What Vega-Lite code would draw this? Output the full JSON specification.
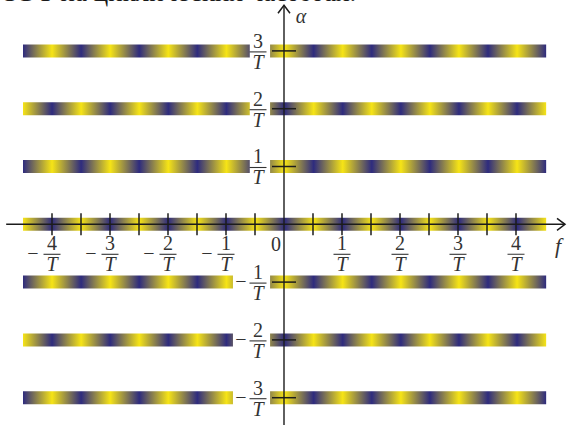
{
  "$schema": "https://vega.github.io/schema/vega-lite/v6.json",
  "width": 568,
  "height": 425,
  "padding": 0,
  "autosize": {"type": "none"},
  "background": "white",
  "config": {"view": {"stroke": null}},
  "datasets": {
    "bands": [
      {"a": 3, "lo": -4.5, "hi": 4.52, "parity": "odd"},
      {"a": 2, "lo": -4.5, "hi": 4.52, "parity": "even"},
      {"a": 1, "lo": -4.5, "hi": 4.52, "parity": "odd"},
      {"a": 0, "lo": -4.5, "hi": 4.52, "parity": "even"},
      {"a": -1, "lo": -4.5, "hi": 4.52, "parity": "odd"},
      {"a": -2, "lo": -4.5, "hi": 4.52, "parity": "even"},
      {"a": -3, "lo": -4.5, "hi": 4.52, "parity": "odd"}
    ],
    "labelGaps": [
      {"a": 3, "lo": -0.59, "hi": -0.24},
      {"a": 2, "lo": -0.59, "hi": -0.24},
      {"a": 1, "lo": -0.59, "hi": -0.24},
      {"a": -1, "lo": -0.88, "hi": -0.24},
      {"a": -2, "lo": -0.88, "hi": -0.24},
      {"a": -3, "lo": -0.88, "hi": -0.24}
    ],
    "axisLines": [
      {"x1": -4.79, "x2": 4.845, "y1": 0, "y2": 0},
      {"x1": 0, "x2": 0, "y1": -3.5, "y2": 3.79}
    ],
    "fTicks": [
      {"f": -4}, {"f": -3.5}, {"f": -3}, {"f": -2.5}, {"f": -2}, {"f": -1.5}, {"f": -1}, {"f": -0.5},
      {"f": 0.5}, {"f": 1}, {"f": 1.5}, {"f": 2}, {"f": 2.5}, {"f": 3}, {"f": 3.5}, {"f": 4}
    ],
    "fLabels": [
      {"f": -4, "num": "4", "sign": "−"},
      {"f": -3, "num": "3", "sign": "−"},
      {"f": -2, "num": "2", "sign": "−"},
      {"f": -1, "num": "1", "sign": "−"},
      {"f": 1, "num": "1", "sign": ""},
      {"f": 2, "num": "2", "sign": ""},
      {"f": 3, "num": "3", "sign": ""},
      {"f": 4, "num": "4", "sign": ""}
    ],
    "aLabels": [
      {"a": 3, "num": "3", "sign": ""},
      {"a": 2, "num": "2", "sign": ""},
      {"a": 1, "num": "1", "sign": ""},
      {"a": -1, "num": "1", "sign": "−"},
      {"a": -2, "num": "2", "sign": "−"},
      {"a": -3, "num": "3", "sign": "−"}
    ],
    "arrowF": [{"f": 4.845, "a": 0}],
    "arrowA": [{"f": 0, "a": 3.79}],
    "caption": [{"f": -4.8966, "a": 3.8806, "text": "ОЭТ на циклических частотах."}]
  },
  "layer": [
    {
      "data": {"name": "bands"},
      "transform": [{"filter": "datum.parity === 'even'"}],
      "mark": {
        "type": "rect",
        "yOffset": -6.5,
        "y2Offset": 6.5,
        "fill": {
          "gradient": "linear", "x1": 0, "y1": 0, "x2": 1, "y2": 0,
          "stops": [
            {"offset": 0.0, "color": "#f6e416"},
            {"offset": 0.0556, "color": "#2e2b7e"},
            {"offset": 0.1111, "color": "#f6e416"},
            {"offset": 0.1667, "color": "#2e2b7e"},
            {"offset": 0.2222, "color": "#f6e416"},
            {"offset": 0.2778, "color": "#2e2b7e"},
            {"offset": 0.3333, "color": "#f6e416"},
            {"offset": 0.3889, "color": "#2e2b7e"},
            {"offset": 0.4444, "color": "#f6e416"},
            {"offset": 0.5, "color": "#2e2b7e"},
            {"offset": 0.5556, "color": "#f6e416"},
            {"offset": 0.6111, "color": "#2e2b7e"},
            {"offset": 0.6667, "color": "#f6e416"},
            {"offset": 0.7222, "color": "#2e2b7e"},
            {"offset": 0.7778, "color": "#f6e416"},
            {"offset": 0.8333, "color": "#2e2b7e"},
            {"offset": 0.8889, "color": "#f6e416"},
            {"offset": 0.9444, "color": "#2e2b7e"},
            {"offset": 1.0, "color": "#f6e416"}
          ]
        }
      },
      "encoding": {
        "x": {"field": "lo", "type": "quantitative", "scale": {"domain": [-4.8966, 4.8966], "nice": false, "zero": false}, "axis": null},
        "x2": {"field": "hi"},
        "y": {"field": "a", "type": "quantitative", "scale": {"domain": [-3.4723, 3.8806], "nice": false, "zero": false}, "axis": null},
        "y2": {"field": "a"}
      }
    },
    {
      "data": {"name": "bands"},
      "transform": [{"filter": "datum.parity === 'odd'"}],
      "mark": {
        "type": "rect",
        "yOffset": -6.5,
        "y2Offset": 6.5,
        "fill": {
          "gradient": "linear", "x1": 0, "y1": 0, "x2": 1, "y2": 0,
          "stops": [
            {"offset": 0.0, "color": "#2e2b7e"},
            {"offset": 0.0556, "color": "#f6e416"},
            {"offset": 0.1111, "color": "#2e2b7e"},
            {"offset": 0.1667, "color": "#f6e416"},
            {"offset": 0.2222, "color": "#2e2b7e"},
            {"offset": 0.2778, "color": "#f6e416"},
            {"offset": 0.3333, "color": "#2e2b7e"},
            {"offset": 0.3889, "color": "#f6e416"},
            {"offset": 0.4444, "color": "#2e2b7e"},
            {"offset": 0.5, "color": "#f6e416"},
            {"offset": 0.5556, "color": "#2e2b7e"},
            {"offset": 0.6111, "color": "#f6e416"},
            {"offset": 0.6667, "color": "#2e2b7e"},
            {"offset": 0.7222, "color": "#f6e416"},
            {"offset": 0.7778, "color": "#2e2b7e"},
            {"offset": 0.8333, "color": "#f6e416"},
            {"offset": 0.8889, "color": "#2e2b7e"},
            {"offset": 0.9444, "color": "#f6e416"},
            {"offset": 1.0, "color": "#2e2b7e"}
          ]
        }
      },
      "encoding": {
        "x": {"field": "lo", "type": "quantitative", "scale": {"domain": [-4.8966, 4.8966], "nice": false, "zero": false}, "axis": null},
        "x2": {"field": "hi"},
        "y": {"field": "a", "type": "quantitative", "scale": {"domain": [-3.4723, 3.8806], "nice": false, "zero": false}, "axis": null},
        "y2": {"field": "a"}
      }
    },
    {
      "data": {"name": "labelGaps"},
      "mark": {"type": "rect", "fill": "white", "yOffset": -8, "y2Offset": 8},
      "encoding": {
        "x": {"field": "lo", "type": "quantitative"},
        "x2": {"field": "hi"},
        "y": {"field": "a", "type": "quantitative"},
        "y2": {"field": "a"}
      }
    },
    {
      "data": {"name": "axisLines"},
      "mark": {"type": "rule", "color": "#1c1c1c", "strokeWidth": 1.4},
      "encoding": {
        "x": {"field": "x1", "type": "quantitative"},
        "x2": {"field": "x2"},
        "y": {"field": "y1", "type": "quantitative"},
        "y2": {"field": "y2"}
      }
    },
    {
      "data": {"name": "fTicks"},
      "mark": {"type": "tick", "orient": "vertical", "size": 22, "thickness": 1.5, "color": "#1c1c1c", "opacity": 1},
      "encoding": {
        "x": {"field": "f", "type": "quantitative"},
        "y": {"datum": 0, "type": "quantitative"}
      }
    },
    {
      "data": {"name": "aLabels"},
      "mark": {"type": "tick", "orient": "horizontal", "size": 24, "thickness": 1.5, "color": "#1c1c1c", "opacity": 1},
      "encoding": {
        "x": {"datum": 0, "type": "quantitative"},
        "y": {"field": "a", "type": "quantitative"}
      }
    },
    {
      "data": {"name": "fLabels"},
      "mark": {"type": "text", "font": "Times New Roman", "fontSize": 20, "color": "#333", "baseline": "middle", "align": "center", "dy": 20},
      "encoding": {
        "x": {"field": "f", "type": "quantitative"},
        "y": {"datum": 0, "type": "quantitative"},
        "text": {"field": "num"}
      }
    },
    {
      "data": {"name": "fLabels"},
      "mark": {"type": "tick", "orient": "horizontal", "size": 17, "thickness": 1.1, "color": "#333", "opacity": 1, "yOffset": 30},
      "encoding": {
        "x": {"field": "f", "type": "quantitative"},
        "y": {"datum": 0, "type": "quantitative"}
      }
    },
    {
      "data": {"name": "fLabels"},
      "mark": {"type": "text", "font": "Times New Roman", "fontStyle": "italic", "fontSize": 20, "color": "#333", "baseline": "middle", "align": "center", "dy": 41},
      "encoding": {
        "x": {"field": "f", "type": "quantitative"},
        "y": {"datum": 0, "type": "quantitative"},
        "text": {"value": "T"}
      }
    },
    {
      "data": {"name": "fLabels"},
      "mark": {"type": "text", "font": "Times New Roman", "fontSize": 20, "color": "#333", "baseline": "middle", "align": "center", "dx": -19, "dy": 30},
      "encoding": {
        "x": {"field": "f", "type": "quantitative"},
        "y": {"datum": 0, "type": "quantitative"},
        "text": {"field": "sign"}
      }
    },
    {
      "data": {"name": "aLabels"},
      "mark": {"type": "text", "font": "Times New Roman", "fontSize": 20, "color": "#333", "baseline": "middle", "align": "center", "dx": -26, "dy": -9},
      "encoding": {
        "x": {"datum": 0, "type": "quantitative"},
        "y": {"field": "a", "type": "quantitative"},
        "text": {"field": "num"}
      }
    },
    {
      "data": {"name": "aLabels"},
      "mark": {"type": "tick", "orient": "horizontal", "size": 17, "thickness": 1.1, "color": "#333", "opacity": 1, "xOffset": -26, "yOffset": 1},
      "encoding": {
        "x": {"datum": 0, "type": "quantitative"},
        "y": {"field": "a", "type": "quantitative"}
      }
    },
    {
      "data": {"name": "aLabels"},
      "mark": {"type": "text", "font": "Times New Roman", "fontStyle": "italic", "fontSize": 20, "color": "#333", "baseline": "middle", "align": "center", "dx": -26, "dy": 12},
      "encoding": {
        "x": {"datum": 0, "type": "quantitative"},
        "y": {"field": "a", "type": "quantitative"},
        "text": {"value": "T"}
      }
    },
    {
      "data": {"name": "aLabels"},
      "mark": {"type": "text", "font": "Times New Roman", "fontSize": 20, "color": "#333", "baseline": "middle", "align": "center", "dx": -43, "dy": 0},
      "encoding": {
        "x": {"datum": 0, "type": "quantitative"},
        "y": {"field": "a", "type": "quantitative"},
        "text": {"field": "sign"}
      }
    },
    {
      "data": {"values": [{"f": 0, "a": 0, "t": "0"}]},
      "mark": {"type": "text", "font": "Times New Roman", "fontSize": 20, "color": "#333", "baseline": "middle", "align": "center", "dx": -8, "dy": 21},
      "encoding": {
        "x": {"field": "f", "type": "quantitative"},
        "y": {"field": "a", "type": "quantitative"},
        "text": {"field": "t"}
      }
    },
    {
      "data": {"name": "arrowF"},
      "mark": {"type": "text", "font": "Times New Roman", "fontStyle": "italic", "fontSize": 22, "color": "#333", "baseline": "middle", "align": "center", "dx": -7, "dy": 22},
      "encoding": {
        "x": {"field": "f", "type": "quantitative"},
        "y": {"field": "a", "type": "quantitative"},
        "text": {"value": "f"}
      }
    },
    {
      "data": {"name": "arrowA"},
      "mark": {"type": "text", "font": "Times New Roman", "fontStyle": "italic", "fontSize": 20, "color": "#333", "baseline": "middle", "align": "center", "dx": 17, "dy": 12},
      "encoding": {
        "x": {"field": "f", "type": "quantitative"},
        "y": {"field": "a", "type": "quantitative"},
        "text": {"value": "α"}
      }
    },
    {
      "data": {"name": "caption"},
      "mark": {"type": "text", "font": "Times New Roman", "fontSize": 27, "color": "#1a1a1a", "baseline": "alphabetic", "align": "left", "dx": 0, "dy": 1},
      "encoding": {
        "x": {"field": "f", "type": "quantitative"},
        "y": {"field": "a", "type": "quantitative"},
        "text": {"field": "text"}
      }
    },
    {
      "data": {"name": "arrowF"},
      "mark": {"type": "point", "shape": "M-1,-0.75L0,0L-1,0.75", "size": 256, "filled": false, "stroke": "#1c1c1c", "strokeWidth": 1.5, "opacity": 1},
      "encoding": {
        "x": {"field": "f", "type": "quantitative"},
        "y": {"field": "a", "type": "quantitative"}
      }
    },
    {
      "data": {"name": "arrowA"},
      "mark": {"type": "point", "shape": "M-0.75,1L0,0L0.75,1", "size": 256, "filled": false, "stroke": "#1c1c1c", "strokeWidth": 1.5, "opacity": 1},
      "encoding": {
        "x": {"field": "f", "type": "quantitative"},
        "y": {"field": "a", "type": "quantitative"}
      }
    }
  ]
}
